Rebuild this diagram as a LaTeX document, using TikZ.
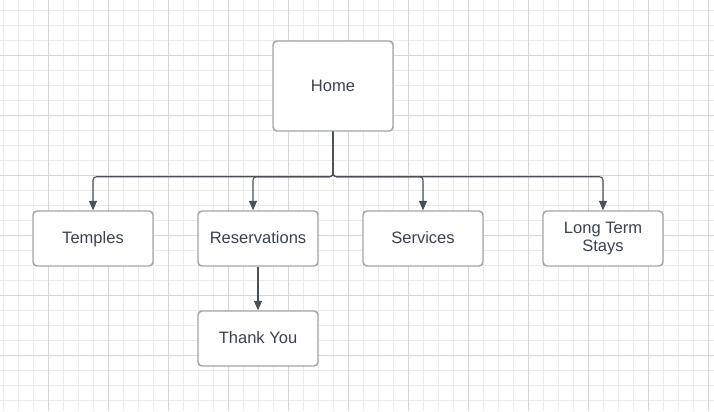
\documentclass[tikz,border=0pt]{standalone}
\usepackage{fontspec}
\setmainfont{Liberation Sans}
\usetikzlibrary{arrows.meta,calc}
\definecolor{gridminor}{HTML}{EBEBEB}
\definecolor{gridmajor}{HTML}{D6D6D6}
\definecolor{boxline}{HTML}{A0A5AB}
\definecolor{conncol}{HTML}{4A5059}
\definecolor{txtcol}{HTML}{3A4150}
\tikzset{
  box/.style={draw=boxline, line width=1.1pt, fill=white, rounded corners=3pt,
    minimum width=90pt, minimum height=41.25pt, inner sep=0pt,
    align=center, text=txtcol, font=\fontsize{12.4pt}{13.6pt}\selectfont},
  oneline/.style={text height=10.4pt, text depth=2.6pt},
  conn/.style={draw=conncol, line width=0.8pt, rounded corners=2.5pt,
    -{Triangle[length=7pt,width=6pt]}},
}
\begin{document}
\begin{tikzpicture}[x=0.75pt,y=-0.75pt]
\useasboundingbox (0,0) rectangle (714,411);
\fill[white] (0,0) rectangle (714,411);
% grid
\foreach \i in {0,...,47} {\draw[gridminor, line width=0.75pt] ({3+15*\i},0) -- ({3+15*\i},411);}
\foreach \i in {0,...,27} {\draw[gridminor, line width=0.75pt] (0,{10+15*\i}) -- (714,{10+15*\i});}
\foreach \i in {0,...,11} {\draw[gridmajor, line width=0.75pt] ({48+60*\i},0) -- ({48+60*\i},411);}
\foreach \i in {0,...,6} {\draw[gridmajor, line width=0.75pt] (0,{55+60*\i}) -- (714,{55+60*\i});}
% nodes
\node[box, oneline, minimum height=67.5pt] (home) at (333,86) {Home};
\node[box, oneline] (temples) at (93,238.5) {Temples};
\node[box, oneline] (res) at (258,238.5) {Reservations};
\node[box, oneline] (serv) at (423,238.5) {Services};
\node[box] (long) at (603,238.5) {Long Term\\Stays};
\node[box, oneline] (thank) at (258,338.5) {Thank You};
% connectors
\draw[conn] (home.south) -- ++(0,45) -| (temples.north);
\draw[conn] (home.south) -- ++(0,45) -| ($(res.north)+(-5,0)$);
\draw[conn] (home.south) -- ++(0,45) -| (serv.north);
\draw[conn] (home.south) -- ++(0,45) -| (long.north);
\draw[conn] (res.south) -- (thank.north);
\end{tikzpicture}
\end{document}
